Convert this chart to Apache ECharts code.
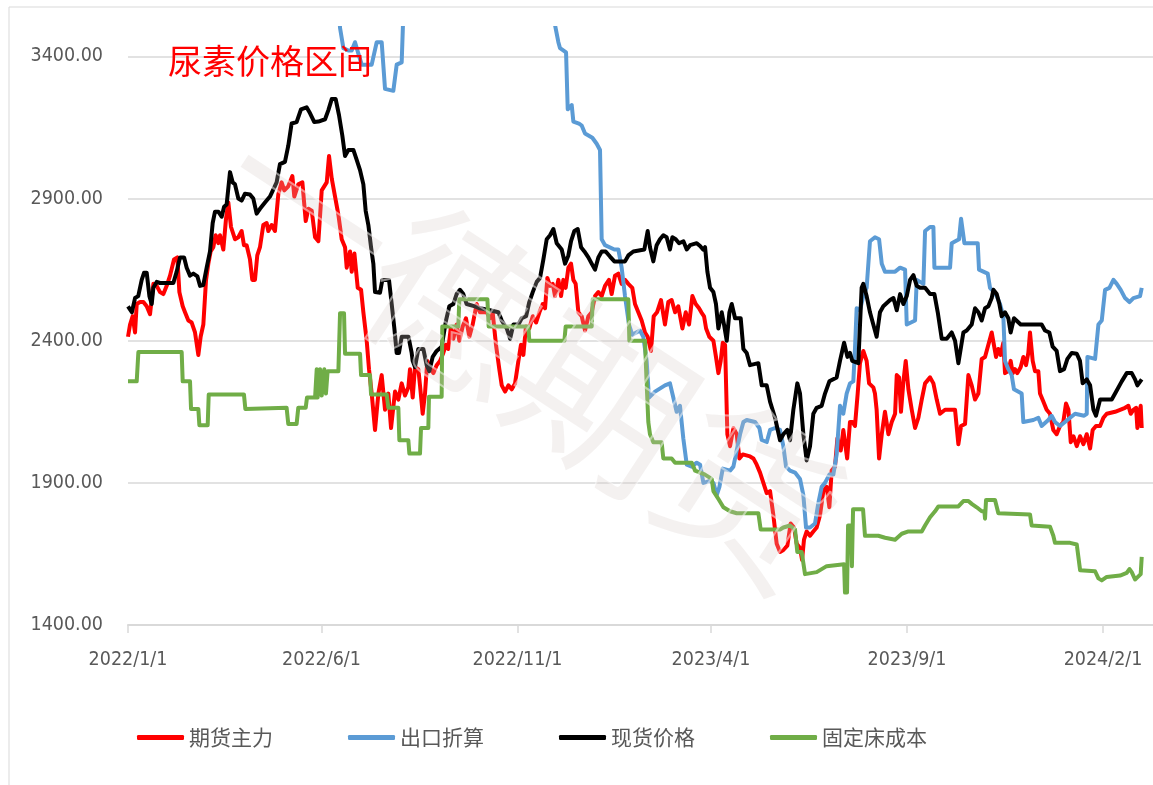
<!DOCTYPE html>
<html>
<head>
<meta charset="utf-8">
<title>尿素价格区间</title>
<script src="https://cdn.jsdelivr.net/npm/echarts@6.0.0/dist/echarts.min.js"></script>
<style>
  html, body { margin: 0; padding: 0; background: #fff; }
  #chart { width: 1153px; height: 785px; }
</style>
</head>
<body>
<div id="chart"></div>
<script>
// 横轴用"距 2022/1/1 的天数"
const tickDays = [0, 151, 304, 455, 608, 761]
const tickLabels = ['2022/1/1', '2022/6/1', '2022/11/1', '2023/4/1', '2023/9/1', '2024/2/1']
const yTicks = [1400, 1900, 2400, 2900, 3400]
const seriesNames = ['期货主力', '出口折算', '现货价格', '固定床成本']

// 期货主力 [天数, 价格]
const futures = [
  [0,2414],[1.6,2457],[3.6,2486],[5.5,2429],[6.8,2529],[9.4,2536],[12,2536],[14.6,2521],[17.2,2493],[19.8,2600],
  [22.4,2593],[25,2571],[27.6,2564],[30.2,2593],[32.8,2629],[35.9,2686],[38.5,2693],[40.1,2571],[42.7,2521],[44.5,2500],
  [47.1,2471],[49.7,2464],[52.3,2429],[54.9,2350],[56.7,2414],[58.8,2457],[60.9,2614],[62.7,2671],[64.5,2714],[66.6,2729],
  [68.4,2771],[70.5,2743],[71.8,2771],[74.4,2721],[76.5,2829],[78.3,2886],[80.4,2800],[83.5,2757],[86.1,2764],[88.7,2786],
  [90.5,2736],[92.6,2736],[95.2,2686],[97,2614],[99.1,2614],[100.9,2700],[103,2729],[105.6,2807],[108.2,2814],[109.5,2786],
  [112.1,2807],[114.7,2786],[117.3,2914],[119.9,2957],[122,2929],[125.1,2943],[128.3,2979],[129.8,2907],[132.9,2950],[136.1,2957],
  [138.7,2821],[140.8,2864],[143.4,2857],[146,2764],[148.6,2750],[151.2,2929],[155.1,2957],[156.9,3050],[159,2971],[161.6,2907],
  [164.2,2843],[166.8,2757],[169.4,2729],[170.7,2657],[173.3,2714],[174.6,2643],[176.7,2707],[179.3,2586],[181.9,2579],[183.7,2500],
  [186.3,2400],[188.1,2300],[190.2,2214],[192.8,2086],[195.4,2214],[198,2279],[200.6,2157],[203.2,2214],[205.3,2093],[208.4,2221],
  [211,2193],[213.6,2250],[216.2,2207],[218.8,2236],[220.1,2300],[222.2,2200],[224,2307],[226.6,2300],[227.9,2243],[230,2143],
  [231.8,2214],[233.6,2329],[235.7,2307],[238.3,2286],[240.9,2314],[243.5,2329],[246.1,2357],[248.2,2386],[250,2371],[251.9,2443],
  [253.9,2407],[256.5,2457],[258.6,2400],[261.2,2450],[263.8,2479],[266.4,2414],[269,2457],[272.1,2529],[274.7,2500],[280,2500],
  [282.6,2479],[284.6,2500],[287.2,2386],[289.8,2300],[291.7,2243],[294.3,2221],[296.9,2243],[299.5,2229],[302.1,2250],[304.7,2329],
  [306.7,2386],[308.6,2350],[310.6,2450],[313.2,2443],[315.9,2486],[318.5,2464],[321.1,2500],[323.7,2529],[325.5,2514],[327.3,2621],
  [329.4,2593],[331.5,2600],[333.3,2557],[335.9,2614],[338,2557],[339.8,2614],[341.6,2586],[343.7,2657],[345.8,2671],[347.6,2614],
  [349.4,2600],[351.5,2500],[354.1,2486],[356.7,2436],[359.3,2486],[361.9,2500],[364.5,2557],[367.1,2571],[369.7,2557],[372.3,2593],
  [375.4,2614],[377.5,2564],[380.1,2629],[382.7,2636],[385.3,2600],[387.9,2614],[390.5,2600],[393.6,2586],[395.7,2529],[398.3,2500],
  [400.9,2471],[403.5,2429],[405.6,2414],[408.2,2364],[410.3,2486],[412.9,2500],[416,2543],[419.1,2457],[421.7,2536],[424.3,2543],
  [427,2500],[429.5,2521],[432.7,2443],[435.3,2500],[437.9,2457],[440.5,2557],[443.1,2529],[445.7,2514],[447.5,2500],[449.6,2486],
  [451.2,2443],[453.7,2414],[456.9,2400],[458.9,2343],[460.8,2286],[462.6,2329],[464.2,2393],[466,2386],[467.8,2071],[469.9,2029],
  [472.5,2093],[475.1,2071],[477.2,1986],[479.8,2000],[485.5,1993],[488.1,1986],[490.7,1964],[493.3,1936],[495.9,1900],[498.5,1864],
  [501.1,1871],[503.7,1786],[506.3,1686],[508.9,1657],[511.5,1664],[514.6,1679],[517.2,1757],[519.8,1743],[521.9,1686],[524.5,1671],
  [526.1,1629],[527.6,1700],[529.7,1729],[532.3,1714],[534.9,1729],[537.5,1743],[540.1,1786],[542.7,1871],[545.3,1886],[547.4,1814],
  [549.2,1943],[551.8,1957],[553.7,2057],[556.3,2014],[558.3,2086],[561.3,1986],[563.5,2114],[565.4,2114],[567.4,2100],[569.5,2214],
  [571.3,2321],[573.9,2364],[576.5,2329],[578.4,2250],[581.7,2236],[583,2214],[584.3,2157],[586.2,1986],[588.3,2071],[590.8,2150],
  [593.5,2071],[596.1,2114],[598.7,2143],[600,2279],[601.8,2271],[603.3,2150],[605.2,2257],[607,2329],[609.1,2229],[611.7,2157],
  [614.3,2093],[616.9,2129],[619.5,2193],[622.1,2250],[626,2271],[628.6,2250],[631.2,2193],[633.8,2143],[637.7,2157],[645.5,2157],
  [648.1,2036],[650.2,2100],[653.3,2107],[655.9,2279],[658.5,2243],[661.1,2193],[663.7,2214],[666.3,2336],[668.9,2343],[671.5,2386],
  [674.1,2429],[675.4,2429],[677.5,2343],[679.3,2371],[681.1,2350],[683.2,2393],[684.5,2286],[687.1,2293],[688.9,2329],[690.5,2286],
  [692.3,2300],[694.1,2286],[696.7,2307],[698.8,2343],[700.9,2314],[702.7,2357],[704,2429],[706.1,2329],[707.9,2293],[710.5,2293],
  [711.8,2214],[714.4,2186],[717,2157],[719.6,2143],[722.2,2086],[724.8,2071],[727.4,2100],[730,2114],[732.1,2179],[734,2157],
  [735.8,2043],[737.9,2064],[740.5,2029],[743.1,2064],[745.7,2036],[748.3,2071],[750.9,2021],[752.9,2086],[755.5,2100],[758.7,2100],
  [761.3,2129],[763.9,2143],[770.4,2150],[774.3,2157],[778.2,2164],[780.8,2171],[782.6,2143],[784.7,2157],[786.8,2164],[787.8,2093],
  [789.4,2150],[790.4,2171],[791.2,2093]
]

// 出口折算（高于 3500 的部分在图外）
const exportCalc = [
  [160,3900],[164.2,3600],[165.5,3500],[168.1,3429],[172,3421],[174.6,3421],[177.2,3450],[179.8,3410],[182.4,3371],[190.2,3371],
  [194.1,3450],[198,3450],[200.6,3286],[207.1,3279],[209.7,3371],[213.6,3379],[214.9,3550],[216.2,3700],[240,3900],[300,3900],
  [330,3700],[333.3,3510],[335.9,3450],[337.2,3429],[341.9,3414],[343.2,3214],[346.3,3229],[347.6,3171],[352,3164],[354.1,3157],
  [356.7,3129],[362.4,3114],[365.8,3093],[368.4,3071],[369.7,2757],[372.3,2736],[379.6,2721],[382.7,2721],[385.3,2657],[387.9,2557],
  [391,2457],[393.6,2421],[399.6,2436],[402.2,2414],[404.8,2329],[406.6,2200],[411.3,2221],[419.1,2243],[423,2250],[425.6,2200],
  [428.2,2150],[430.8,2171],[433.4,2057],[436.1,1964],[440,1957],[443.9,1971],[446.5,1964],[449.1,1900],[454.3,1907],[456.9,1900],
  [459.5,1857],[461.6,1886],[464.2,1950],[469.9,1943],[472.5,1957],[475.1,2014],[477.7,2071],[480.3,2114],[482.9,2121],[489.4,2114],
  [492.8,2093],[494.6,2050],[498.5,2043],[501.1,2086],[505,2093],[508.9,2086],[511.5,2029],[513.6,1957],[516.7,1943],[520.6,1936],
  [524.5,1914],[527.1,1857],[529.2,1743],[532.3,1743],[536.2,1757],[538.8,1829],[541.4,1886],[544,1900],[547.4,1929],[550.5,1929],
  [553.1,2000],[555.7,2171],[558.3,2143],[560.9,2214],[563.5,2250],[566.1,2257],[567.4,2371],[568.7,2514],[571.3,2507],[573.9,2557],
  [576.5,2586],[579.1,2750],[583,2764],[586.2,2757],[588.3,2671],[590.8,2643],[598.7,2643],[602.6,2657],[606.5,2650],[607.8,2457],
  [614.3,2471],[615.6,2614],[620.8,2600],[622.1,2786],[626,2800],[628.6,2800],[629.4,2657],[641.6,2657],[642.9,2743],[648.6,2757],
  [650.2,2829],[652.8,2743],[663.2,2743],[664.2,2650],[671,2636],[672.8,2586],[675.9,2571],[678,2557],[680.6,2529],[683.2,2486],
  [684.5,2329],[687.1,2300],[689.7,2279],[691.5,2229],[697.5,2214],[698.8,2114],[706.6,2121],[710.5,2129],[713.1,2100],[718.3,2121],
  [720.9,2136],[723.5,2114],[727.4,2100],[731.3,2114],[735.3,2129],[739.2,2143],[746.2,2136],[748.3,2143],[748.8,2343],[754.8,2336],
  [757.4,2457],[760,2471],[762.6,2579],[766,2586],[769.1,2614],[771.7,2600],[774.8,2579],[778.2,2550],[781.6,2536],[784.7,2550],
  [789.9,2557],[791.2,2586]
]

// 现货价格
const spot = [
  [0,2521],[3,2500],[5.5,2550],[8,2557],[10.7,2614],[12.5,2639],[14.6,2639],[16.7,2557],[18.5,2529],[19.8,2586],
  [22.4,2607],[25,2603],[35.4,2603],[38,2643],[40.6,2693],[43.8,2693],[45.8,2657],[48.4,2629],[51,2636],[54.2,2626],
  [56.2,2593],[58.8,2596],[61.4,2657],[64,2714],[66.1,2814],[67.9,2854],[70.5,2854],[73.1,2836],[75,2871],[77,2879],
  [79.6,2993],[81.7,2957],[83.5,2950],[86.1,2900],[88.7,2893],[91.3,2917],[95.2,2914],[97.8,2900],[100.4,2847],[103,2864],
  [106.9,2886],[110.8,2907],[112.1,2914],[116,2957],[118.6,3021],[122.5,3029],[125.1,3086],[127.7,3164],[131.6,3169],[135,3214],
  [139.4,3221],[142.1,3200],[145.4,3169],[148.6,3171],[153.8,3179],[156.4,3211],[159,3250],[162.1,3250],[164.7,3193],[167.3,3121],
  [169.4,3050],[172,3071],[175.9,3071],[178.5,3036],[181.1,3000],[183.7,2950],[185.5,2857],[187.6,2807],[189.7,2729],[191.5,2671],
  [192.8,2571],[196.7,2569],[198.5,2614],[203.7,2614],[205.8,2529],[207.9,2443],[209.7,2357],[211.5,2357],[213.6,2414],[218.9,2414],
  [221.4,2357],[222.2,2329],[224,2307],[226.6,2371],[230.5,2371],[233.1,2314],[235.2,2293],[237.8,2343],[240.9,2364],[244.8,2379],
  [248.2,2471],[250.8,2521],[253.9,2529],[256.5,2564],[259.1,2579],[261.7,2564],[264.3,2529],[270.8,2521],[274.7,2514],[282.6,2507],
  [289.1,2500],[291.7,2471],[295.6,2443],[298.2,2407],[300.8,2457],[304.7,2457],[307.3,2479],[310.7,2486],[313.2,2536],[315.9,2571],
  [319,2607],[321.6,2621],[324.2,2686],[326.8,2757],[329.4,2771],[332,2793],[334.6,2743],[338.5,2721],[341.1,2671],[343.7,2700],
  [345.8,2750],[348.4,2786],[351,2793],[353.6,2729],[356.2,2714],[359.3,2693],[361.9,2671],[364.5,2650],[367.1,2693],[369.7,2714],
  [372.8,2714],[376.2,2696],[379.6,2679],[387.9,2679],[390.5,2700],[394.4,2714],[403,2721],[405.6,2786],[407.4,2729],[410,2679],
  [412.6,2736],[415.2,2757],[417.8,2771],[420.4,2764],[423,2721],[424.9,2764],[427.5,2757],[430.1,2743],[433.5,2750],[436.1,2721],
  [438.7,2736],[443.9,2743],[446.5,2733],[449,2720],[450.4,2729],[452.2,2643],[454.3,2586],[456.9,2571],[458.9,2529],[460.8,2443],
  [463.4,2500],[465.2,2457],[467.3,2400],[469.4,2500],[471.2,2529],[473.8,2479],[478.2,2479],[480.3,2371],[482.9,2357],[485.5,2314],
  [492,2321],[494.6,2243],[498.5,2243],[501.1,2186],[505,2129],[508.9,2050],[511.5,2071],[514.6,2086],[516.7,2050],[519.3,2157],
  [522.4,2250],[524.5,2214],[527.1,2071],[529.7,1979],[532.3,2029],[534.9,2143],[537.5,2164],[541.4,2171],[544,2214],[547.4,2257],
  [553.1,2271],[555.7,2329],[558.9,2393],[561.5,2343],[563.5,2357],[565.3,2329],[570,2321],[572.6,2586],[573.9,2600],[576.5,2557],
  [579.1,2500],[581.7,2457],[584.3,2414],[586.9,2500],[589.5,2521],[594.8,2543],[597.4,2550],[600,2507],[602.6,2564],[605.2,2529],
  [607.8,2557],[610.4,2614],[613,2631],[615.6,2593],[618.2,2586],[622.1,2586],[626,2564],[629.4,2564],[632,2500],[635.1,2407],
  [639,2407],[642.9,2429],[645.5,2400],[648.1,2321],[649.4,2314],[652,2429],[654.6,2436],[658.5,2457],[661.1,2514],[663.7,2500],
  [666.3,2471],[668.9,2514],[671.5,2521],[674.1,2550],[675.4,2579],[678,2564],[680.1,2529],[681.9,2486],[684.5,2500],[687.1,2479],
  [688.9,2429],[691.5,2479],[696.7,2457],[713.1,2457],[715.7,2436],[719.1,2429],[721.7,2379],[724.8,2364],[727.4,2293],[730.6,2300],
  [733.2,2336],[736.6,2357],[740.5,2354],[743,2329],[745.1,2250],[748.3,2264],[750.9,2243],[753.5,2157],[755.5,2136],[758.7,2193],
  [767.8,2193],[770.4,2214],[775.6,2257],[779.5,2286],[783.4,2286],[786,2264],[787.8,2243],[791.2,2264]
]

// 固定床成本
const fixedBedCost = [
  [0,2257],[6.8,2257],[8.1,2360],[41.9,2360],[42.7,2257],[48.4,2257],[49.2,2160],[54.9,2160],[55.7,2103],[62.2,2103],
  [63,2211],[90.5,2211],[91.6,2160],[123.8,2164],[125.1,2107],[131.6,2107],[132.9,2164],[138.7,2164],[139.7,2200],[146,2200],
  [147.3,2300],[148,2200],[149.9,2300],[151.2,2207],[153.2,2300],[154.5,2214],[155.8,2293],[164.2,2293],[165.5,2497],[168.6,2497],
  [169.4,2354],[181.1,2354],[181.9,2279],[188.9,2279],[189.7,2211],[201.9,2211],[203.2,2164],[211,2164],[211.8,2050],[218.8,2050],
  [219.6,2003],[227.9,2003],[228.7,2093],[234.4,2093],[234.9,2203],[244.8,2203],[245.3,2450],[257.8,2450],[258.6,2546],[280.5,2546],
  [281.5,2450],[312.5,2450],[313.2,2400],[340.6,2400],[341.6,2450],[361.9,2450],[362.7,2546],[390.5,2546],[391.3,2400],[403.5,2400],
  [404.8,2250],[406.1,2114],[407.4,2071],[410,2043],[416.5,2043],[417.8,1986],[424.3,1986],[427,1971],[440,1971],[442.6,1943],
  [450,1930],[455.6,1914],[456.9,1871],[460.8,1843],[464.7,1814],[469.9,1800],[475.1,1793],[492,1793],[493.8,1736],[508.9,1736],
  [511.5,1743],[516.7,1750],[520.6,1736],[522.4,1657],[525.8,1657],[528.4,1579],[537.5,1586],[545.3,1607],[558.9,1614],[559.6,1514],
  [561.2,1514],[562,1750],[564.3,1750],[565,1607],[565.9,1807],[573.7,1807],[575.2,1714],[585.6,1714],[590.9,1707],[598.7,1700],
  [603.9,1721],[609.1,1729],[619.5,1729],[622.1,1750],[626,1779],[629.9,1800],[632.5,1817],[648.1,1817],[652,1836],[655.9,1836],
  [658.5,1826],[662.4,1814],[666.3,1800],[668.4,1800],[668.9,1774],[669.7,1840],[676.7,1840],[679.3,1793],[704,1789],[705.3,1750],
  [719.6,1746],[722.2,1714],[723.5,1689],[735.3,1689],[740.5,1683],[743.1,1593],[754.8,1589],[757.4,1564],[760,1557],[763.9,1569],
  [774.3,1574],[779.5,1583],[781.6,1597],[783.4,1586],[786,1560],[788.6,1571],[790.4,1579],[791.2,1640]
]

const colors = ['#ff0000', '#5b9bd5', '#000000', '#70ad47']
const seriesData = [futures, exportCalc, spot, fixedBedCost]

const fontCJK = '"Noto Sans CJK SC", "Noto Sans", sans-serif'
// 坐标轴数字用窄体，接近原图的 Calibri
const fontNum = '"DejaVu Sans Condensed", "Liberation Sans", sans-serif'

const chart = echarts.init(document.getElementById('chart'))

const option = {
  backgroundColor: '#fff',
  animation: false,
  color: colors,
  title: {
    text: '尿素价格区间',
    left: 163,
    top: 39,
    textStyle: { color: '#ff0000', fontSize: 34, fontWeight: 'normal', fontFamily: fontCJK }
  },
  legend: {
    left: 132,
    top: 722,
    icon: 'roundRect',
    itemWidth: 47,
    itemHeight: 5,
    itemGap: 75,
    data: seriesNames,
    textStyle: { color: '#595959', fontSize: 21, fontFamily: fontCJK }
  },
  grid: { left: 128, right: 0, top: 28, bottom: 160 },
  xAxis: {
    type: 'value',
    min: 0,
    max: 800,
    axisLine: { lineStyle: { color: '#d9d9d9', width: 2 } },
    axisTick: { customValues: tickDays, length: 8, lineStyle: { color: '#d9d9d9', width: 1.5 } },
    axisLabel: {
      customValues: tickDays,
      margin: 25,
      color: '#595959',
      fontSize: 19.5,
      fontFamily: fontNum,
      formatter: v => tickLabels[tickDays.indexOf(v)]
    },
    splitLine: { show: false }
  },
  yAxis: {
    type: 'value',
    min: 1400,
    max: 3500,
    axisLine: { show: false },
    axisTick: { show: false, customValues: yTicks },
    axisLabel: {
      customValues: yTicks,
      margin: 25,
      color: '#595959',
      fontSize: 19.5,
      fontFamily: fontNum,
      formatter: v => v.toFixed(2)
    },
    splitLine: { lineStyle: { color: '#d9d9d9', width: 1.5 } }
  },
  graphic: [
    // 外框（原图被裁切后残留的上、左边线）
    { type: 'line', shape: { x1: 9, y1: 7, x2: 1153, y2: 7 }, style: { stroke: '#d9d9d9', lineWidth: 1 }, silent: true },
    { type: 'line', shape: { x1: 9, y1: 7, x2: 9, y2: 785 }, style: { stroke: '#d9d9d9', lineWidth: 1 }, silent: true },
    // 水印
    {
      type: 'text',
      x: 530,
      y: 350,
      rotation: -0.58,
      z: 100,
      silent: true,
      style: {
        text: '一德期货',
        font: '175px ' + fontCJK,
        textAlign: 'center',
        textVerticalAlign: 'middle',
        fill: 'rgba(210,200,195,0.25)',
        stroke: 'rgba(255,255,255,0.5)',
        lineWidth: 2
      }
    }
  ],
  series: seriesNames.map((name, i) => ({
    name: name,
    type: 'line',
    data: seriesData[i],
    showSymbol: false,
    symbol: 'none',
    lineStyle: { color: colors[i], width: 4, join: 'round' },
    itemStyle: { color: colors[i] }
  }))
}

chart.setOption(option)
</script>
</body>
</html>
